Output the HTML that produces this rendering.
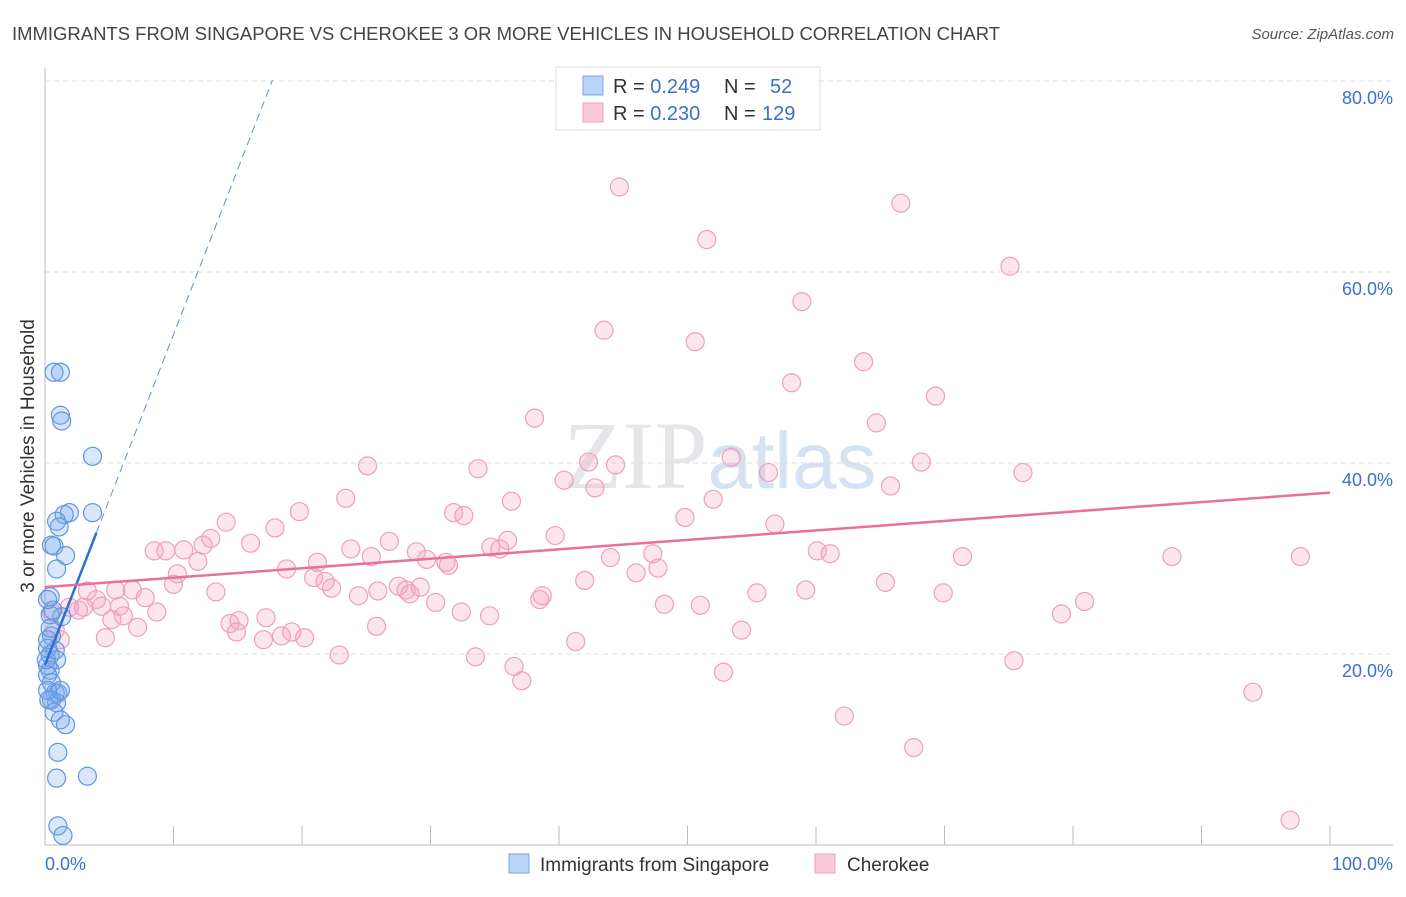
<!DOCTYPE html>
<html><head><meta charset="utf-8"><style>
body{margin:0;background:#fff;font-family:"Liberation Sans",sans-serif;}
</style></head><body>
<svg width="1406" height="892" xmlns="http://www.w3.org/2000/svg">
<text x="12" y="40" font-size="18" fill="#444" textLength="988" lengthAdjust="spacingAndGlyphs">IMMIGRANTS FROM SINGAPORE VS CHEROKEE 3 OR MORE VEHICLES IN HOUSEHOLD CORRELATION CHART</text>
<text x="1394" y="39" font-size="15" fill="#555" font-style="italic" text-anchor="end">Source: ZipAtlas.com</text>
<text x="720" y="488" font-size="96" fill="#e6e6ea" text-anchor="middle" font-family="Liberation Serif,serif">ZIP<tspan fill="#d5e2f3" font-family="Liberation Sans,sans-serif" font-size="80">atlas</tspan></text>
<g id="grid"></g>
<g id="axes"></g>
<g id="pts"></g>
<g id="trends"></g>
<text transform="translate(34,456) rotate(-90)" font-size="19" fill="#333" text-anchor="middle">3 or more Vehicles in Household</text>
<text x="45" y="870" font-size="18" fill="#3b70d0">0.0%</text>
<text x="1393" y="870" font-size="18" fill="#3b70d0" text-anchor="end">100.0%</text>
<g>
<rect x="556" y="67" width="264" height="63" fill="#fff" stroke="#ddd"/>
<rect x="583" y="76" width="20" height="19" fill="#b9d3f5" stroke="#7aa6e6"/>
<rect x="583" y="103" width="20" height="19" fill="#fbc9d8" stroke="#ee9fba"/>
<text x="613" y="93" font-size="20" fill="#333">R = <tspan fill="#3b70d0">0.249</tspan><tspan x="724">N = </tspan><tspan x="770" fill="#3b70d0">52</tspan></text>
<text x="613" y="120" font-size="20" fill="#333">R = <tspan fill="#3b70d0">0.230</tspan><tspan x="724">N = </tspan><tspan x="762" fill="#3b70d0">129</tspan></text>
</g>
<g>
<rect x="509" y="854" width="20" height="19" fill="#b9d3f5" stroke="#7aa6e6"/>
<text x="540" y="871" font-size="19" fill="#333">Immigrants from Singapore</text>
<rect x="815" y="854" width="20" height="19" fill="#fbc9d8" stroke="#ee9fba"/>
<text x="847" y="871" font-size="19" fill="#333">Cherokee</text>
</g>
</svg>
<script>
const yTicks=[20,40,60,80];
const yTickLabels=["20.0%","40.0%","60.0%","80.0%"];
const xTicks=[10,20,30,40,50,60,70,80,90,100];
const blueX=[0.7,1.2,1.2,1.3,3.7,3.7,1.9,1.5,0.9,1.1,0.5,0.7,1.6,0.9,0.4,1.3,0.4,0.5,0.8,0.2,0.4,0.9,0.2,0.4,0.2,0.5,0.8,1.0,0.5,0.9,0.7,1.2,1.6,1.0,0.9,3.3,1.0,1.4,0.2,0.4,0.2,0.6,0.1,0.3,1.2,0.2];
const blueY=[49.5,49.5,45.0,44.4,40.7,34.8,34.8,34.6,33.9,33.3,31.4,31.3,30.3,28.9,26.0,23.9,24.1,21.9,20.4,20.6,19.9,19.4,18.8,18.3,17.8,17.0,15.9,15.9,15.2,14.9,13.9,13.1,12.6,9.7,7.0,7.2,2.0,1.0,21.5,22.7,16.2,24.6,19.4,15.2,16.2,25.7];
const pinkX=[44.7,66.6,51.5,75.1,58.9,43.5,50.6,63.7,58.1,69.3,38.1,64.7,53.4,25.1,42.3,44.4,68.2,33.7,56.3,76.1,40.4,42.8,65.8,23.4,52.0,36.3,19.8,31.8,32.6,14.1,49.8,17.9,56.8,12.9,26.8,39.7,16.0,12.3,36.0,8.5,9.4,10.8,34.7,35.4,23.8,28.9,47.3,60.1,61.1,71.4,87.7,97.7,44.0,11.9,25.4,29.7,31.2,21.2,31.4,47.7,10.3,18.8,20.9,46.0,21.8,10.0,42.0,65.4,27.5,5.5,6.8,3.3,22.3,28.1,29.2,25.9,28.4,13.3,38.7,59.2,55.4,69.9,7.8,4.0,38.5,24.4,30.4,48.2,51.0,80.9,4.4,1.9,2.6,3.0,5.8,8.7,6.1,32.4,34.6,79.1,17.2,5.2,15.1,14.4,7.2,25.8,14.9,54.2,19.2,18.4,17.0,4.7,20.2,41.3,22.9,33.5,36.5,75.4,37.1,52.8,94.0,62.2,67.6,96.9,1.2,0.8,0.5];
const pinkY=[68.9,67.2,63.4,60.6,56.9,53.9,52.7,50.6,48.4,47.0,44.7,44.2,40.6,39.7,40.1,39.8,40.1,39.4,39.0,39.0,38.2,37.4,37.6,36.3,36.2,36.0,34.9,34.8,34.5,33.8,34.3,33.2,33.6,32.1,31.8,32.4,31.6,31.4,31.9,30.8,30.8,30.9,31.2,31.0,31.0,30.7,30.5,30.8,30.5,30.2,30.2,30.2,30.1,29.7,30.2,29.9,29.6,29.6,29.3,29.0,28.4,28.9,28.0,28.5,27.6,27.3,27.7,27.5,27.1,26.7,26.7,26.6,26.9,26.7,27.0,26.6,26.3,26.5,26.1,26.7,26.4,26.4,25.9,25.7,25.7,26.1,25.4,25.2,25.1,25.5,25.0,24.9,24.6,24.9,25.0,24.4,24.0,24.4,24.0,24.2,23.8,23.6,23.5,23.2,22.8,22.9,22.3,22.5,22.3,21.9,21.5,21.7,21.7,21.3,19.9,19.7,18.7,19.3,17.2,18.1,16.0,13.5,10.2,2.6,21.5,22.5,24.4];
const blueTrend=[18.85,3.46];
const blueSolidEnd=4;
const blueDashEnd=17.7;
const pinkTrend=[27.0,36.9];
const NS="http://www.w3.org/2000/svg";
const X=v=>45+v*12.85, Y=v=>845-v*9.55;
function mk(tag,attrs,parent){const e=document.createElementNS(NS,tag);for(const k in attrs)e.setAttribute(k,attrs[k]);document.getElementById(parent).appendChild(e);return e;}
yTicks.forEach((t,i)=>{
 const l=mk('line',{x1:45,x2:1393,y1:Y(t),y2:Y(t),stroke:'#ddd','stroke-dasharray':'5,4'},'grid');
 
 
 const tx=mk('text',{x:1393,y:Y(t)+23,'font-size':18,fill:'#3b70d0','text-anchor':'end'},'grid');
 tx.textContent=yTickLabels[i];
 
 
});
let a=mk('line',{x1:45,x2:45,y1:68,y2:845,stroke:'#bbb'},'axes');


a=mk('line',{x1:45,x2:1393,y1:845,y2:845,stroke:'#bbb'},'axes');


xTicks.forEach(t=>{
 const l=mk('line',{x1:X(t),x2:X(t),y1:826,y2:845,stroke:'#bbb'},'axes');
 
 
});
pinkX.forEach((v,i)=>{
 const c=mk('circle',{cx:X(v),cy:Y(pinkY[i]),r:9,fill:'rgba(244,160,190,0.28)',stroke:'#eda0bb','stroke-width':1.2},'pts');
 
 
});
blueX.forEach((v,i)=>{
 const c=mk('circle',{cx:X(v),cy:Y(blueY[i]),r:9,fill:'rgba(120,168,238,0.28)',stroke:'#6396de','stroke-width':1.2},'pts');
 
 
});
const by=x=>blueTrend[0]+blueTrend[1]*x;
let t=mk('line',{x1:X(0),y1:Y(by(0)),x2:X(blueSolidEnd),y2:Y(by(blueSolidEnd)),stroke:'#2e6fd6','stroke-width':2.5},'trends');


t=mk('line',{x1:X(blueSolidEnd),y1:Y(by(blueSolidEnd)),x2:X(blueDashEnd),y2:Y(by(blueDashEnd)),stroke:'#5b90dc','stroke-width':1,'stroke-dasharray':'8,5'},'trends');


t=mk('line',{x1:X(0),y1:Y(pinkTrend[0]),x2:X(100),y2:Y(pinkTrend[1]),stroke:'#e8709a','stroke-width':2.5},'trends');


</script>
</body></html>
